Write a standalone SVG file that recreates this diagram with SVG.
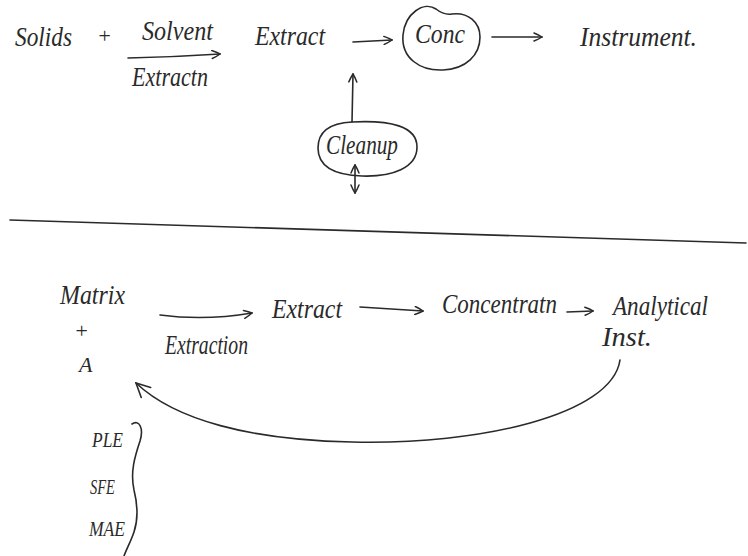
<svg xmlns="http://www.w3.org/2000/svg" width="748" height="556" viewBox="0 0 748 556">
  <defs>
    <style>
      .ink { fill: none; stroke: #2a2a2a; stroke-width: 1.6; stroke-linecap: round; stroke-linejoin: round; }
      .lbl { font-family: "Liberation Serif", "DejaVu Serif", serif; font-style: italic; fill: #2a2a2a; font-size: 27px; }
      .sm { font-size: 22px; }
    </style>
    <!-- open, hand-drawn style arrow head -->
    <marker id="head" viewBox="0 0 10 10" refX="9" refY="5" markerWidth="10" markerHeight="10" markerUnits="userSpaceOnUse" orient="auto-start-reverse">
      <path d="M1,1 Q6,3 9,5 Q6,7 1,9" fill="none" stroke="#2a2a2a" stroke-width="1.5" stroke-linecap="round"/>
    </marker>
    <marker id="headBig" viewBox="0 0 14 14" refX="13" refY="7" markerWidth="16" markerHeight="16" markerUnits="userSpaceOnUse" orient="auto-start-reverse">
      <path d="M1,1 L13,7 L1,13" fill="none" stroke="#2a2a2a" stroke-width="1.4" stroke-linecap="round"/>
    </marker>
  </defs>

  <rect width="748" height="556" fill="#ffffff"/>

  <!-- upper scheme -->
  <g id="solids"><text class="lbl" x="15" y="46" textLength="57" lengthAdjust="spacingAndGlyphs">Solids</text></g>
  <g id="plus-top"><text class="lbl sm" x="97" y="43">+</text></g>
  <g id="solvent"><text class="lbl" x="142" y="40" textLength="71" lengthAdjust="spacingAndGlyphs">Solvent</text></g>
  <g id="extraction-top"><text class="lbl" x="132" y="86" textLength="76" lengthAdjust="spacingAndGlyphs">Extractn</text></g>
  <g id="extract-top"><text class="lbl" x="255" y="45" textLength="70" lengthAdjust="spacingAndGlyphs">Extract</text></g>
  <g id="conc">
    <path class="ink" d="M436,9 C424,1 405,13 403,35 C401,58 420,71 443,70 C466,69 480,55 480,37 C480,22 468,12 452,14 C446,15 441,13 436,9"/>
    <text class="lbl" x="415" y="43" textLength="50" lengthAdjust="spacingAndGlyphs">Conc</text>
  </g>
  <g id="instrument"><text class="lbl" x="580" y="46" textLength="117" lengthAdjust="spacingAndGlyphs">Instrument.</text></g>
  <g id="cleanup">
    <path class="ink" d="M352,122 C390,120 417,126 417,147 C417,168 392,177 362,176 C332,175 318,165 318,148 C318,130 332,123 352,122"/>
    <text class="lbl" x="326" y="154" textLength="72" lengthAdjust="spacingAndGlyphs">Cleanup</text>
  </g>

  <!-- divider -->
  <path class="ink" d="M10,220 Q380,230 746,243"/>

  <!-- lower scheme -->
  <g id="matrix"><text class="lbl" x="60" y="304" textLength="65" lengthAdjust="spacingAndGlyphs">Matrix</text></g>
  <g id="plus-bottom"><text class="lbl sm" x="74" y="338">+</text></g>
  <g id="analyte"><text class="lbl sm" x="79" y="372">A</text></g>
  <g id="extraction-bottom"><text class="lbl" x="165" y="354" textLength="83" lengthAdjust="spacingAndGlyphs">Extraction</text></g>
  <g id="extract-bottom"><text class="lbl" x="272" y="318" textLength="70" lengthAdjust="spacingAndGlyphs">Extract</text></g>
  <g id="concentration"><text class="lbl" x="442" y="313" textLength="115" lengthAdjust="spacingAndGlyphs">Concentratn</text></g>
  <g id="analytical-inst">
    <text class="lbl" x="613" y="315" textLength="95" lengthAdjust="spacingAndGlyphs">Analytical</text>
    <text class="lbl" x="602" y="346" textLength="50" lengthAdjust="spacingAndGlyphs">Inst.</text>
  </g>
  <g id="methods">
    <text class="lbl sm" x="92" y="447" textLength="31" lengthAdjust="spacingAndGlyphs">PLE</text>
    <text class="lbl sm" x="90" y="494" textLength="25" lengthAdjust="spacingAndGlyphs">SFE</text>
    <text class="lbl sm" x="89" y="536" textLength="36" lengthAdjust="spacingAndGlyphs">MAE</text>
  </g>

  <!-- connectors -->
  <g id="connectors">
    <path class="ink" d="M128,58 Q175,57 220,54" marker-end="url(#head)"/>
    <path class="ink" d="M353,42 L392,40" marker-end="url(#head)"/>
    <path class="ink" d="M492,37 L542,37" marker-end="url(#head)"/>
    <path class="ink" d="M352,122 L353,74" marker-end="url(#head)"/>
    <path class="ink" d="M355,165 L355,193" marker-start="url(#head)" marker-end="url(#head)"/>
    <path class="ink" d="M160,315 Q205,321 252,313" marker-end="url(#head)"/>
    <path class="ink" d="M360,307 L423,311" marker-end="url(#head)"/>
    <path class="ink" d="M567,312 L593,311" marker-end="url(#head)"/>
    <path class="ink" d="M620,360 C612,415 480,445 352,442 C250,440 175,420 136,383" marker-end="url(#headBig)"/>
    <path class="ink" d="M132,424 C139,419 144,428 140,441 C135,456 130,472 134,490 C138,506 138,520 134,532 C131,541 127,548 124,556"/>
  </g>
</svg>
